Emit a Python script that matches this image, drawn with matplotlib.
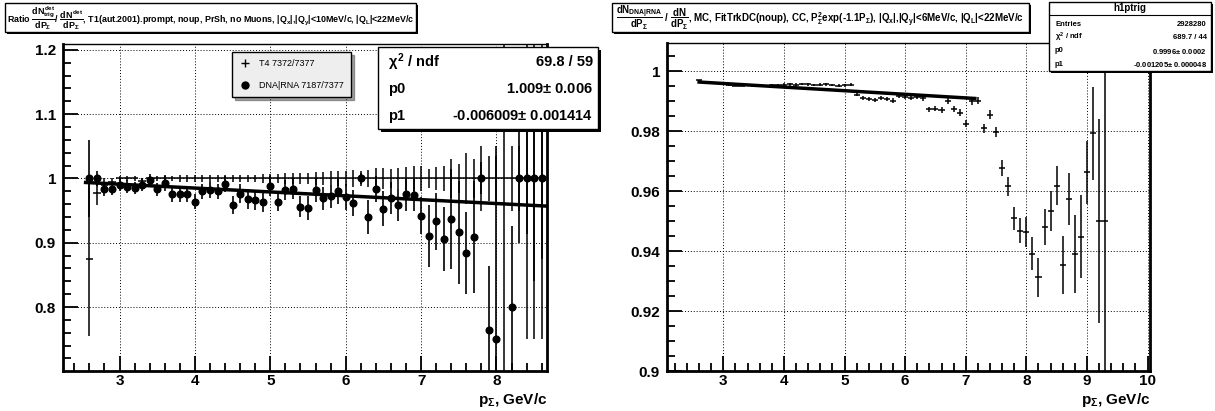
import numpy as np
import matplotlib
matplotlib.use("Agg")
import matplotlib.pyplot as plt
from matplotlib.lines import Line2D
from matplotlib.patches import Rectangle
from matplotlib.ticker import MultipleLocator, FuncFormatter

plt.rcParams["font.family"] = ["Liberation Sans", "DejaVu Sans"]
plt.rcParams["font.weight"] = "bold"
plt.rcParams["mathtext.fontset"] = "custom"
plt.rcParams["mathtext.rm"] = "Liberation Sans:bold"
plt.rcParams["mathtext.it"] = "Liberation Sans:bold"
plt.rcParams["mathtext.bf"] = "Liberation Sans:bold"
plt.rcParams["mathtext.sf"] = "Liberation Sans:bold"

# ---- left panel: ratio trig / det ----
left_x = np.round(np.arange(2.6, 8.61, 0.1), 2)
t4_val = [0.875, 0.978, 0.990, 0.995, 1.0, 1.0, 1.0, 0.996, 1.0, 1.0,
          1.0, 1.0, 1.0, 1.0, 1.0, 1.0, 1.0, 1.0, 1.0, 1.0,
          1.0, 1.0, 1.0, 1.0, 1.0, 1.0, 1.0, 1.0, 1.0, 1.0,
          1.0, 1.0, 1.0, 1.0, 1.0, 1.0, 1.0, 1.0, 1.0, 1.0,
          1.0, 1.0, 1.0, 1.0, 1.0, 1.0, 1.0, 1.0, 1.0, 1.0,
          1.0, 1.0, 1.0, 1.0, 1.0, 1.0, 1.0, 1.0, 1.0, 1.0, 1.0]
t4_err = [0.12, 0.02, 0.01, 0.006, 0.004, 0.004, 0.004, 0.005, 0.004, 0.004,
          0.004, 0.004, 0.005, 0.005, 0.005, 0.005, 0.005, 0.005, 0.005, 0.006,
          0.006, 0.006, 0.006, 0.007, 0.007, 0.007, 0.008, 0.008, 0.009, 0.009,
          0.010, 0.010, 0.011, 0.012, 0.012, 0.013, 0.012, 0.013, 0.016, 0.016,
          0.015, 0.016, 0.018, 0.020, 0.020, 0.015, 0.018, 0.020, 0.030, 0.022,
          0.040, 0.030, 0.050, 0.035, 0.035, 0.30, 0.05, 0.05, 0.25, 0.25, 0.25]
dna_val = [1.000, 1.000, 0.983, 0.984, 0.990, 0.987, 0.985, 0.990, 0.997, 0.983,
           0.993, 0.975, 0.975, 0.975, 0.964, 0.980, 0.982, 0.980, 0.991, 0.958,
           0.976, 0.968, 0.966, 0.963, 0.988, 0.964, 0.982, 0.984, 0.956, 0.954,
           0.982, 0.969, 0.972, 0.980, 0.971, 0.962, 1.000, 0.940, 0.983, 0.953,
           0.969, 0.958, 0.975, 0.974, 0.942, 0.911, 0.933, 0.906, 0.937, 0.916,
           0.884, 0.909, 1.000, 0.764, 0.750, np.nan, 0.800, 1.000, 1.000, 1.000, 1.000]
dna_err = [0.060, 0.012, 0.010, 0.010, 0.010, 0.010, 0.010, 0.010, 0.010, 0.010,
           0.012, 0.012, 0.012, 0.012, 0.012, 0.012, 0.012, 0.012, 0.012, 0.014,
           0.015, 0.015, 0.015, 0.015, 0.015, 0.015, 0.015, 0.016, 0.016, 0.018,
           0.018, 0.018, 0.018, 0.020, 0.020, 0.020, 0.008, 0.026, 0.020, 0.027,
           0.025, 0.025, 0.025, 0.025, 0.029, 0.048, 0.045, 0.050, 0.078, 0.080,
           0.063, 0.087, 0.025, 0.100, 0.300, 0.0, 0.126, 0.100, 0.087, 0.160, 0.125]
left_fit = (1.009, -0.006009)
left_fit_range = (2.55, 8.65)

# ---- right panel: DNA|RNA / all, MC ----
right_x = np.round(np.arange(2.6, 9.31, 0.1), 2)
mc_val = [0.9970, 0.9963, 0.9961, 0.9960, 0.9958, 0.9956, 0.9953, 0.9953, 0.9954, 0.9953,
          0.9952, 0.9953, 0.9955, 0.9954, 0.9956, 0.9957, 0.9956, 0.9958, 0.9957, 0.9955,
          0.9956, 0.9957, 0.9955, 0.9952, 0.9954, 0.9956, 0.9923, 0.9912, 0.9908, 0.9904,
          0.9911, 0.9908, 0.9903, 0.9917, 0.9915, 0.9912, 0.9915, 0.9912, 0.9873, 0.9876,
          0.9872, 0.9902, 0.9875, 0.9862, 0.9825, 0.9900, 0.9903, 0.9810, 0.9855, 0.9797,
          0.9677, 0.9616, 0.9510, 0.9469, 0.9463, 0.9391, 0.9313, 0.9480, 0.9534, 0.9619,
          0.9355, 0.9575, 0.9390, 0.9449, 0.9664, 0.9793, 0.9500, 0.9500]
mc_err = [0.0003, 0.0003, 0.0003, 0.0003, 0.0003, 0.0003, 0.0003, 0.0003, 0.0003, 0.0003,
          0.0003, 0.0003, 0.0003, 0.0003, 0.0004, 0.0004, 0.0004, 0.0004, 0.0004, 0.0004,
          0.0004, 0.0004, 0.0004, 0.0005, 0.0005, 0.0005, 0.0006, 0.0006, 0.0006, 0.0006,
          0.0006, 0.0007, 0.0007, 0.0007, 0.0008, 0.0008, 0.0008, 0.0009, 0.0009, 0.0009,
          0.0010, 0.0010, 0.0011, 0.0011, 0.0012, 0.0012, 0.0013, 0.0014, 0.0015, 0.0016,
          0.0027, 0.0032, 0.0039, 0.0043, 0.0050, 0.0055, 0.0065, 0.0060, 0.0066, 0.0065,
          0.0097, 0.0086, 0.0130, 0.0140, 0.0105, 0.0155, 0.0340, 0.0500]
right_fit = (0.9996, -0.001205)
right_fit_range = (2.6, 7.15)

W, H = 1215, 411


def fx(px):
    return px / W


def fy(py):
    return 1 - py / H


def box(fig, x0, y0, x1, y1, face="white", shadow=3):
    fig.add_artist(Rectangle((fx(x0 + shadow), fy(y1 + shadow)), fx(x1 - x0), (y1 - y0) / H,
                             transform=fig.transFigure, facecolor="black", edgecolor="none"))
    fig.add_artist(Rectangle((fx(x0), fy(y1)), fx(x1 - x0), (y1 - y0) / H,
                             transform=fig.transFigure, facecolor=face, edgecolor="black", linewidth=1))


def style_axes(ax, xlim, ylim, yticks, yminor):
    ax.set_xlim(*xlim)
    ax.set_ylim(*ylim)
    ax.xaxis.set_major_locator(MultipleLocator(1))
    ax.xaxis.set_minor_locator(MultipleLocator(0.2))
    ax.set_yticks(yticks)
    ax.yaxis.set_minor_locator(MultipleLocator(yminor))
    fmt = FuncFormatter(lambda v, p: "%g" % round(v, 4))
    ax.xaxis.set_major_formatter(fmt)
    ax.yaxis.set_major_formatter(fmt)
    ax.tick_params(which="both", direction="in", top=False, right=False, width=1.3)
    ax.tick_params(which="major", length=11, labelsize=11)
    ax.tick_params(axis="x", which="major", pad=2)
    ax.tick_params(axis="y", which="major", pad=5)
    ax.tick_params(which="minor", length=5.5)
    for lab in ax.get_xticklabels() + ax.get_yticklabels():
        lab.set_fontweight("bold")
    ax.grid(True, which="major", linestyle=(0, (1, 2)), color="black", linewidth=0.7)
    for side in ("left", "bottom", "right"):
        ax.spines[side].set_linewidth(2)
    ax.spines["top"].set_linewidth(1)


fig = plt.figure(figsize=(W / 100, H / 100), dpi=100)

# left axes
ax1 = fig.add_axes([fx(63), fy(371), fx(547 - 63), (371 - 44) / H])
style_axes(ax1, (2.25, 8.67), (0.7005, 1.209), [0.8, 0.9, 1.0, 1.1, 1.2], 0.02)
ax1.errorbar(left_x, t4_val, yerr=t4_err, xerr=0.05, fmt="none", ecolor="black", elinewidth=1.1)
ax1.errorbar(left_x, dna_val, yerr=dna_err, fmt="o", color="black", ms=4.8, elinewidth=1.2)
xf = np.array(left_fit_range)
ax1.plot(xf, left_fit[0] + left_fit[1] * xf, color="black", lw=2.5)

# right axes
ax2 = fig.add_axes([fx(667), fy(371), fx(1150 - 667), (371 - 43) / H])
style_axes(ax2, (2.07, 10.04), (0.9, 1.0095), [0.9, 0.92, 0.94, 0.96, 0.98, 1.0], 0.005)
ax2.errorbar(right_x, mc_val, yerr=mc_err, xerr=0.05, fmt="none", ecolor="black", elinewidth=1.1)
xf = np.array(right_fit_range)
ax2.plot(xf, right_fit[0] + right_fit[1] * xf, color="black", lw=2.5)

# axis titles
for xr in (547, 1150):
    fig.text(fx(xr), fy(400), r"$p_{\Sigma}$, GeV/c", ha="right", va="center", fontsize=11,
             fontweight="bold")

# title boxes
box(fig, 5, 3, 416, 32, shadow=2)
fig.text(fx(211), fy(18),
         r"Ratio $\dfrac{dN^{det}_{trig}}{dP_{\Sigma}}$/ $\dfrac{dN^{det}}{dP_{\Sigma}}$, T1(aut.2001).prompt, noup, "
         r"PrSh, no Muons, $|Q_{x}|$,$|Q_{y}|$<10MeV/c, $|Q_{L}|$<22MeV/c",
         ha="center", va="center", fontsize=6.4, fontweight="bold")
box(fig, 612, 3, 1029, 32, shadow=2)
fig.text(fx(820), fy(18),
         r"$\dfrac{dN_{DNA|RNA}}{dP_{\Sigma}}$ / $\dfrac{dN}{dP_{\Sigma}}$, MC, FitTrkDC(noup), CC, "
         r"$P^{2}_{\Sigma}$exp(-1.1$P_{\Sigma}$), $|Q_{x}|$,$|Q_{y}|$<6MeV/c, $|Q_{L}|$<22MeV/c",
         ha="center", va="center", fontsize=7.0, fontweight="bold")

# legend on the left panel
handles = [Line2D([], [], marker="+", color="black", ls="none", ms=6),
           Line2D([], [], marker="o", color="black", ls="none", ms=5)]
leg = fig.legend(handles, ["T4 7372/7377", "DNA|RNA 7187/7377"], loc="upper left",
                 bbox_to_anchor=(fx(232), fy(52)), bbox_transform=fig.transFigure,
                 borderaxespad=0, frameon=True, fancybox=False, shadow=True,
                 facecolor="#eeeeee", edgecolor="black", framealpha=1, handlelength=1.2,
                 borderpad=0.8, labelspacing=1.4, handletextpad=1.0,
                 prop={"weight": "normal", "size": 6.5})

# fit box, left
box(fig, 378, 47, 598, 129)
rows = [(r"$\chi^{2}$ / ndf", "69.8 / 59"),
        ("p0", r"1.009$\pm$ 0.006"),
        ("p1", r"-0.006009$\pm$ 0.001414")]
for i, (k, v) in enumerate(rows):
    yy = 62 + i * 27
    fig.text(fx(388), fy(yy), k, ha="left", va="center", fontsize=10.5, fontweight="bold")
    fig.text(fx(593), fy(yy), v, ha="right", va="center", fontsize=10.5, fontweight="bold")

# stats box, right
box(fig, 1049, 2, 1211, 71, shadow=2)
fig.text(fx(1130), fy(8), "h1ptrig", ha="center", va="center", fontsize=7, fontweight="bold")
fig.add_artist(Line2D([fx(1049), fx(1211)], [fy(15), fy(15)], transform=fig.transFigure,
                      color="black", lw=0.8))
stat_rows = [("Entries", "2928280"),
             (r"$\chi^{2}$ / ndf", "689.7 / 44"),
             ("p0", r"0.9996$\pm$ 0.0002"),
             ("p1", r"-0.001205$\pm$ 0.000048")]
for i, (k, v) in enumerate(stat_rows):
    yy = 24 + i * 13.5
    fig.text(fx(1055), fy(yy), k, ha="left", va="center", fontsize=5.5, fontweight="bold")
    fig.text(fx(1207), fy(yy), v, ha="right", va="center", fontsize=5.5, fontweight="bold")

fig.savefig("out.png", dpi=100)
